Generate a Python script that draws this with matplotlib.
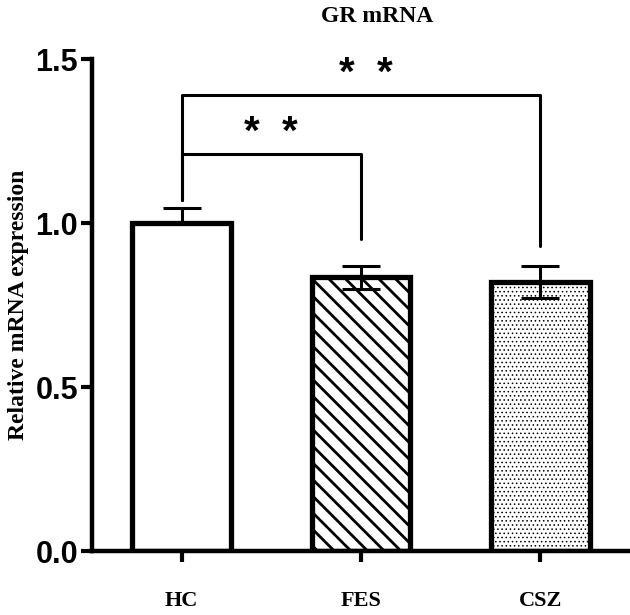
import matplotlib
matplotlib.use('Agg')
import matplotlib.pyplot as plt
import numpy as np

# data
groups = ['HC', 'FES', 'CSZ']
means = [1.0, 0.835, 0.82]
sems = [0.045, 0.035, 0.05]
hatches = ['', '\\\\', '....']
faces = ['white', 'none', 'none']

# significance brackets: (left group, right group, height, left leg end, right leg end, label)
brackets = [(0, 2, 1.39, 1.07, 0.93, '*  *'),
            (0, 1, 1.21, 1.07, 0.95, '*  *')]

plt.rcParams['hatch.linewidth'] = 2.0

fig = plt.figure(figsize=(6.3, 6.15), dpi=100)
ax = fig.add_axes([0.146, 0.104, 0.854, 0.8])

x = np.arange(len(groups))
ax.errorbar(x, means, yerr=sems, fmt='none', ecolor='black', elinewidth=2.2,
            capsize=14, capthick=2.2, zorder=1)
bars = ax.bar(x, means, width=0.55, color=faces, edgecolor='black', linewidth=3.8,
              zorder=2)
for b, h in zip(bars, hatches):
    b.set_hatch(h)
    if h == '....' and hasattr(b, 'set_hatch_linewidth'):
        b.set_hatch_linewidth(0.6)

for i0, i1, h, l0, l1, lab in brackets:
    ax.plot([x[i0], x[i0], x[i1], x[i1]], [l0, h, h, l1], color='black', lw=2.2,
            solid_capstyle='round', zorder=3, clip_on=False)
    ax.text((x[i0] + x[i1]) / 2 + 0.03 * (i1 - i0 - 1), h + 0.065, lab,
            ha='center', va='center', fontsize=29, fontweight='bold',
            family='Liberation Sans')

ax.set_xlim(-0.5, 2.5)
ax.set_ylim(0, 1.5)
ax.set_yticks([0, 0.5, 1.0, 1.5])
ax.set_yticklabels(['0.0', '0.5', '1.0', '1.5'], fontsize=22, fontweight='bold',
                   family='Liberation Sans')
ax.set_xticks(x)
ax.set_xticklabels(groups, fontsize=16, fontweight='bold', family='Liberation Serif')
ax.tick_params(axis='y', length=8, width=3, pad=2)
ax.tick_params(axis='x', length=8, width=3, pad=21, direction='out')

for s in ['top', 'right']:
    ax.spines[s].set_visible(False)
for s in ['left', 'bottom']:
    ax.spines[s].set_linewidth(3.2)

ax.set_ylabel('Relative mRNA expression', fontsize=17, fontweight='bold',
              family='Liberation Serif', labelpad=5)
ax.set_title('GR mRNA', fontsize=17, fontweight='bold', family='Liberation Serif',
             pad=27, x=0.53)

fig.savefig('out.png', dpi=100)
